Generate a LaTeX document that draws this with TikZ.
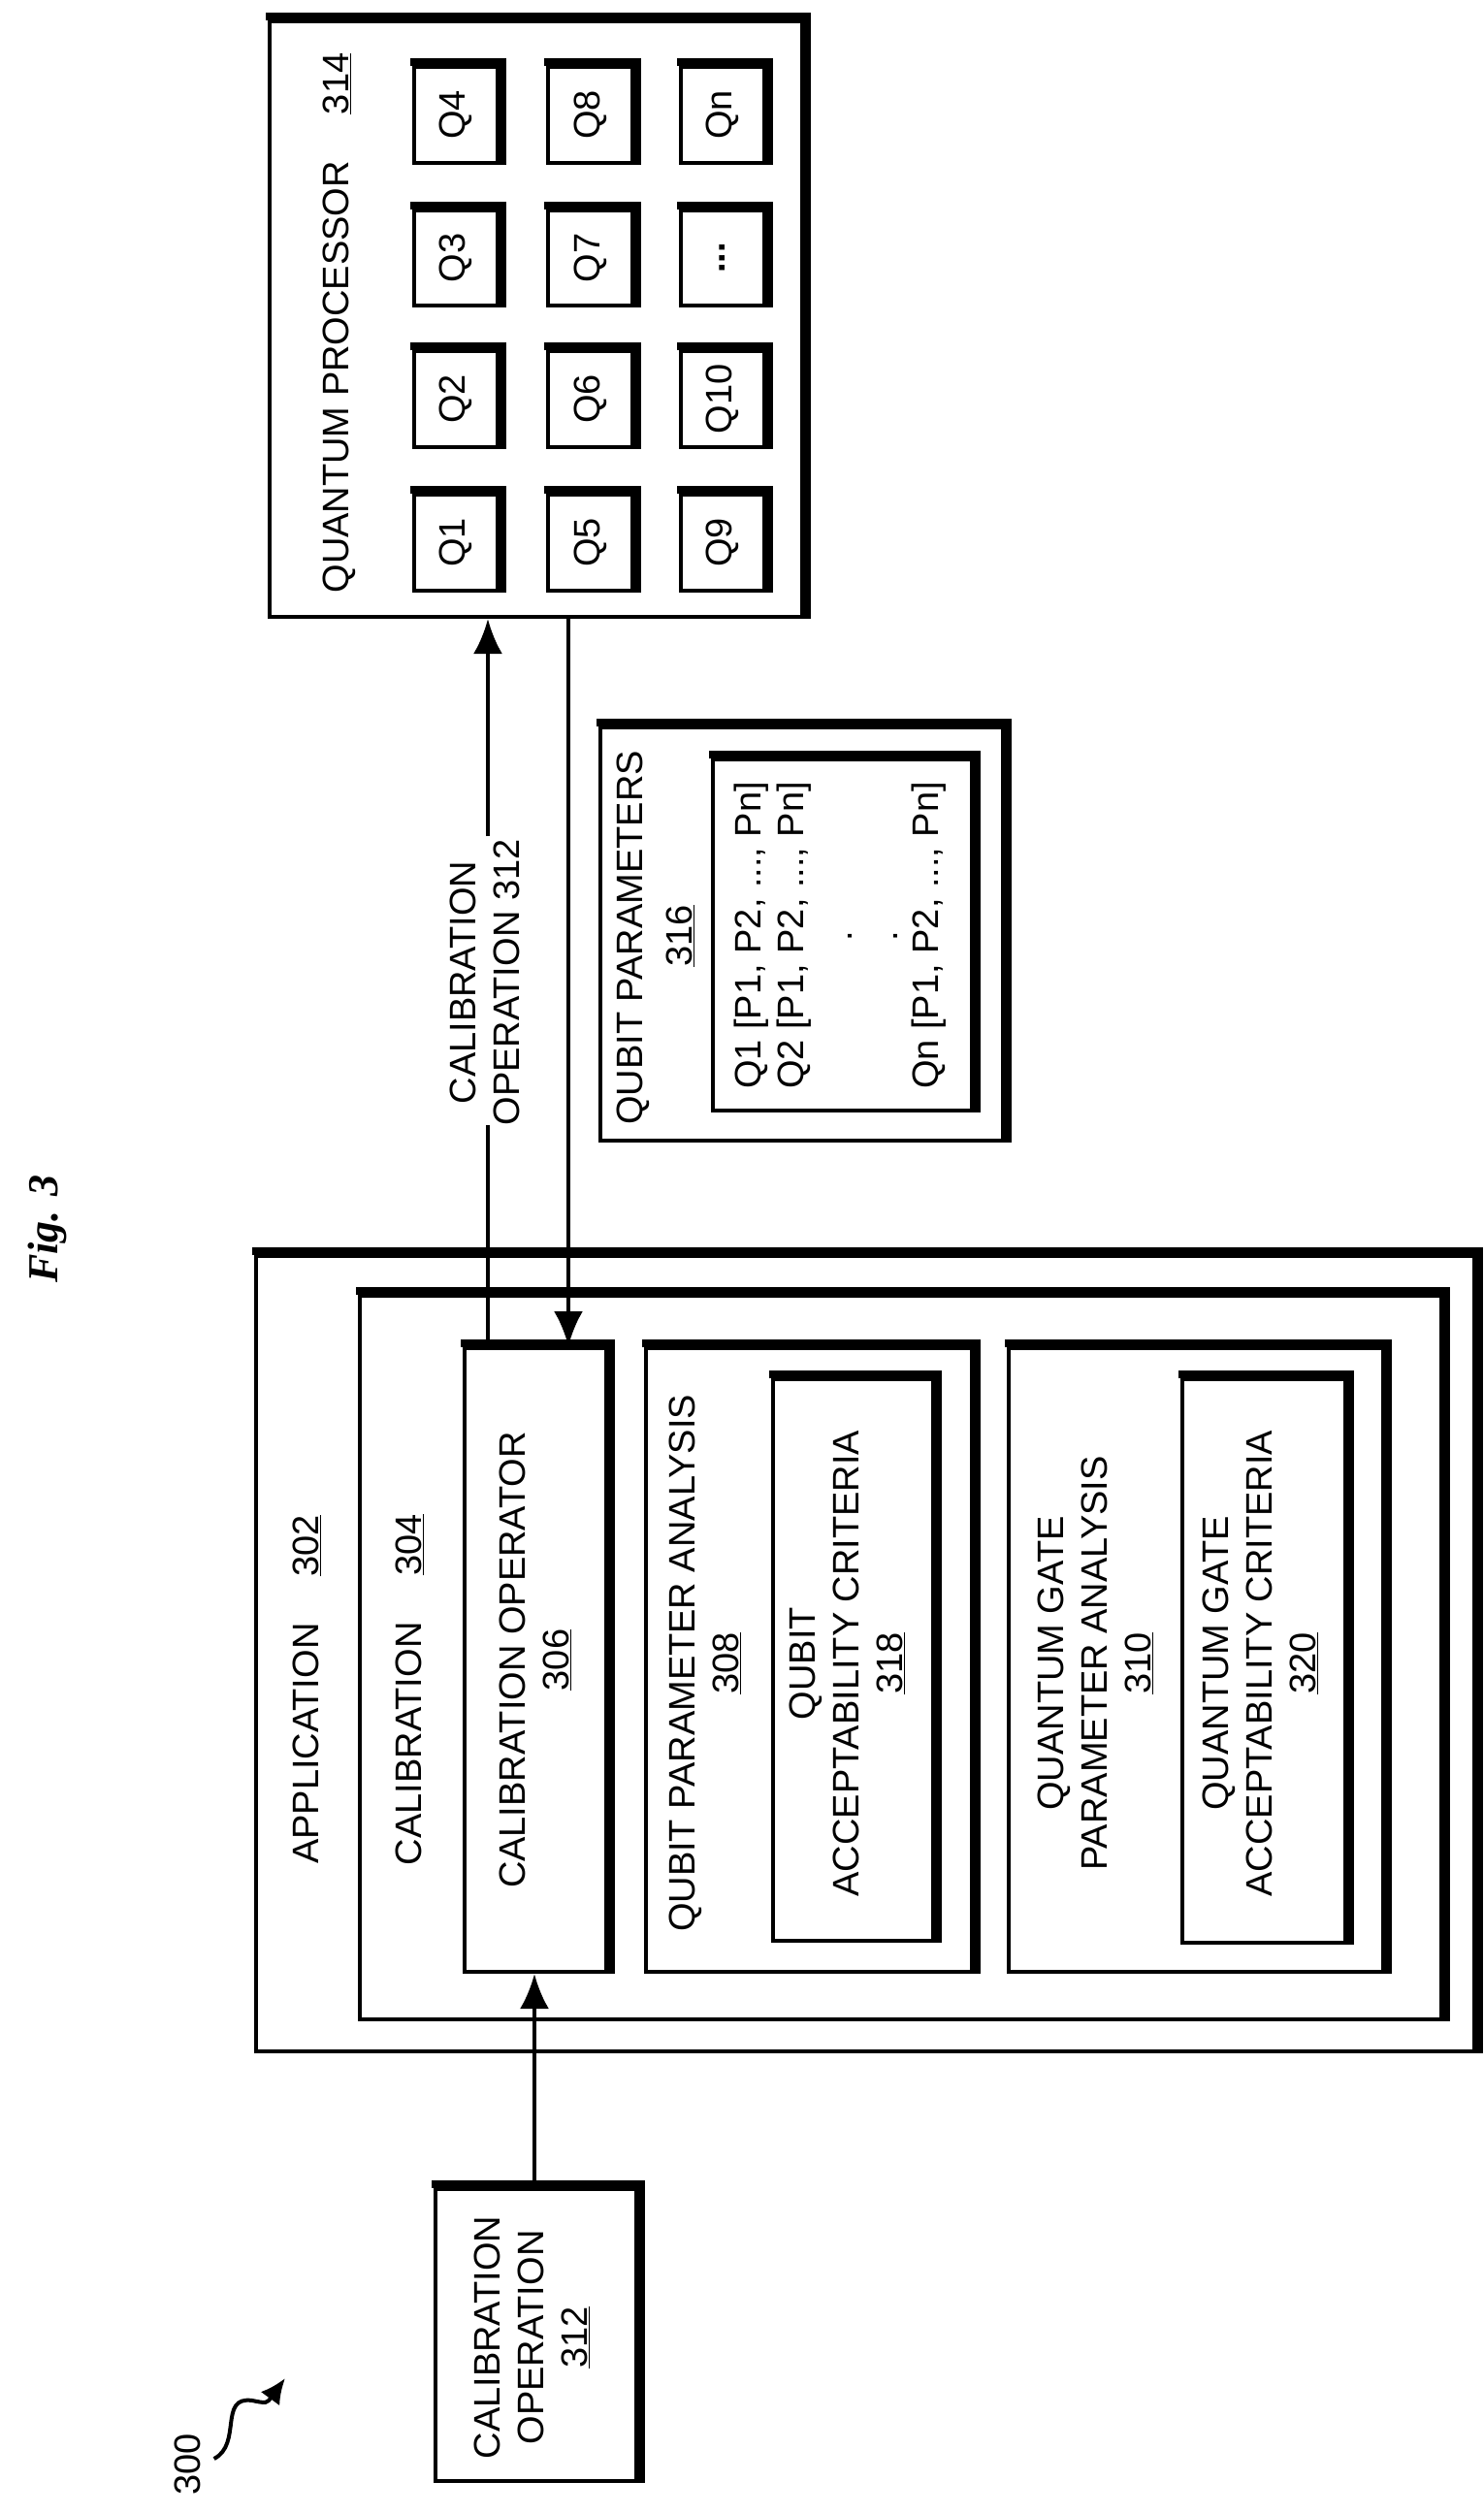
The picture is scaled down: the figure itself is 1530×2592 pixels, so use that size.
\documentclass[tikz,border=0pt]{standalone}
\usepackage{fontspec}
\setmainfont{Liberation Sans}
\newfontfamily\figserif{Liberation Serif}
\usetikzlibrary{arrows.meta}
\begin{document}
\begin{tikzpicture}[x=1pt,y=1pt,
  box/.style={draw,line width=4pt,inner sep=0pt},
  txt/.style={rotate=90,align=center,font=\fontsize{38}{45}\selectfont,inner sep=0pt},
  arr/.style={line width=4pt,-{Latex[length=36pt,width=30pt]}},
  sh/.style={line width=8pt}]
\useasboundingbox (0,0) rectangle (1530,-2592);
\newcommand{\bx}[5]{\node[box,minimum width=#4-#2,minimum height=#5-#3] (#1) at ({(#2+#4)/2},{-(#3+#5)/2}) {};
  \draw[sh] ([xshift=-2pt,yshift=3pt]#1.north west) -- ([xshift=3pt,yshift=3pt]#1.north east) -- ([xshift=3pt]#1.south east);}
% processor
\bx{qp}{278}{22}{827}{636}
\node[txt] (qpt) at (350,-333) {QUANTUM PROCESSOR\hspace{48pt}\underline{314}};
\foreach \c/\xa/\xb in {0/427/513,1/565/652,2/702/788}{
  \foreach \r/\ya/\yb in {0/510/609,1/362/461,2/217/315,3/69/168}{
    \bx{q\c\r}{\xa}{\ya}{\xb}{\yb}
  }}
\node[txt] (l1) at (q00) {Q1}; \node[txt] (l2) at (q01) {Q2}; \node[txt] (l3) at (q02) {Q3}; \node[txt] (l4) at (q03) {Q4};
\node[txt] (l5) at (q10) {Q5}; \node[txt] (l6) at (q11) {Q6}; \node[txt] (l7) at (q12) {Q7}; \node[txt] (l8) at (q13) {Q8};
\node[txt] (l9) at (q20) {Q9}; \node[txt] (l10) at (q21) {Q10}; \node[txt] (l11) at (q22) {\textbf{...}}; \node[txt] (l12) at (q23) {Qn};
% qubit params
\bx{qpar}{619}{750}{1034}{1176}
\bx{qpin}{735}{783}{1002}{1145}
\node[txt] (qpt1) at (653,-967) {QUBIT PARAMETERS};
\node[txt] (qpt2) at (701,-965) {\underline{316}};
\node[txt,anchor=west] (p1) at (775,-1123) {Q1 [P1, P2, ..., Pn]};
\node[txt,anchor=west] (p2) at (819,-1123) {Q2 [P1, P2, ..., Pn]};
\node[txt] (d1) at (876,-965) {.};
\node[txt] (d2) at (923,-965) {.};
\node[txt,anchor=west] (p3) at (958,-1123) {Qn [P1, P2, ..., Pn]};
% application
\bx{app}{264}{1295}{1520}{2115}
\node[txt] (appt) at (316,-1742) {APPLICATION\hspace{48pt}\underline{302}};
\bx{cal}{371}{1336}{1486}{2082}
\node[txt] (calt) at (422,-1742) {CALIBRATION\hspace{48pt}\underline{304}};
\bx{cop}{479}{1390}{625}{2033}
\node[txt] (copt) at (cop) {CALIBRATION OPERATOR\\\underline{306}};
\bx{qpa}{666}{1390}{1002}{2033}
\node[txt] (qpat) at (727,-1715) {QUBIT PARAMETER ANALYSIS\\\underline{308}};
\bx{qac}{797}{1422}{962}{2001}
\node[txt] (qact) at (873,-1715) {QUBIT\\ACCEPTABILITY CRITERIA\\\underline{318}};
\bx{gpa}{1040}{1390}{1426}{2033}
\node[txt] (gpat) at (1129,-1715) {QUANTUM GATE\\PARAMETER ANALYSIS\\\underline{310}};
\bx{gac}{1219}{1422}{1387}{2003}
\node[txt] (gact) at (1299,-1715) {QUANTUM GATE\\ACCEPTABILITY CRITERIA\\\underline{320}};
% calibration operation box
\bx{co}{449}{2257}{656}{2558}
\node[txt] (cot) at (548,-2410) {CALIBRATION\\OPERATION\\\underline{312}};
% connectors
\node[txt] (lbl) at (500,-1013) {CALIBRATION\\OPERATION 312};
\draw[line width=4pt] (cop.north -| 503,0) -- (503,-1160);
\draw[arr] (503,-862) -- (qp.south -| 503,0);
\draw[arr] (qp.south -| 586,0) -- (cop.north -| 586,0);
\draw[arr] (co.north -| 551,0) -- (cop.south -| 551,0);
% labels
\node[rotate=90,font=\figserif\bfseries\itshape\fontsize{44}{52}\selectfont] (fig) at (49,-1267) {Fig. 3};
\node[txt] (n300) at (193,-2541) {300};
\coordinate (sqe) at (294,-2452);
\draw[line width=4pt,-{Latex[length=26pt,width=24pt]}] (n300.south) ++(14,6) .. controls (250,-2520) and (225,-2470) .. (260,-2475) .. controls (275,-2478) .. (sqe);
\end{tikzpicture}
\end{document}
